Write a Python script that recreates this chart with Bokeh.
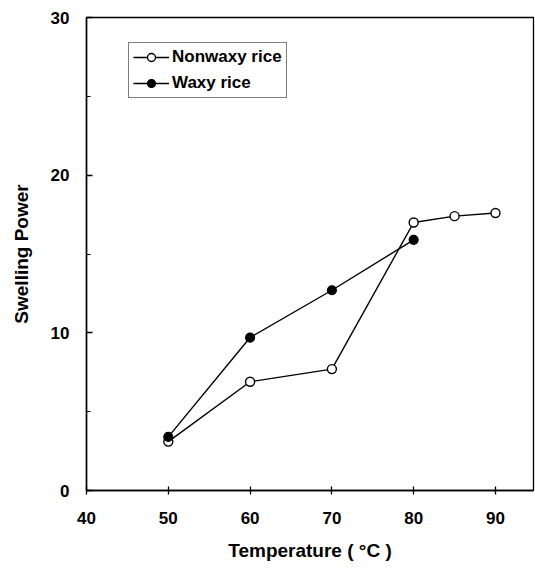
from bokeh.plotting import figure
from bokeh.models import FixedTicker, Range1d, Legend, LegendItem
from bokeh.embed import file_html
from bokeh.resources import INLINE

# Data
temp_nonwaxy = [50, 60, 70, 80, 85, 90]
swell_nonwaxy = [3.1, 6.9, 7.7, 17.0, 17.4, 17.6]
temp_waxy = [50, 60, 70, 80]
swell_waxy = [3.4, 9.7, 12.7, 15.9]
x_ticks = [40, 50, 60, 70, 80, 90]
y_ticks = [0, 10, 20, 30]
y_minor_ticks = [5, 15, 25]

FONT = "Liberation Sans"

p = figure(width=535, height=570, output_backend="svg", toolbar_location=None,
           x_range=Range1d(40, 94.65), y_range=Range1d(0, 30),
           min_border_left=86, min_border_right=2, min_border_top=17, min_border_bottom=80)
p.background_fill_color = "white"
p.border_fill_color = "white"
p.outline_line_color = "black"
p.outline_line_width = 1.3
p.xgrid.visible = False
p.ygrid.visible = False

# axes
xa = p.xaxis[0]
xa.ticker = FixedTicker(ticks=x_ticks)
xa.axis_label = "Temperature ( °C )"
xa.axis_line_width = 1.5
xa.major_tick_in = 4
xa.major_tick_out = 4
xa.major_tick_line_width = 1.3
xa.minor_tick_line_color = None
xa.major_label_standoff = 17
xa.major_label_text_font = FONT
xa.major_label_text_font_style = "bold"
xa.major_label_text_font_size = "17px"
xa.major_label_text_color = "black"
xa.axis_label_standoff = 13
xa.axis_label_text_font = FONT
xa.axis_label_text_font_style = "bold"
xa.axis_label_text_font_size = "19px"
xa.axis_label_text_color = "black"

ya = p.yaxis[0]
ya.ticker = FixedTicker(ticks=y_ticks, minor_ticks=y_minor_ticks)
ya.axis_label = "Swelling Power"
ya.axis_line_width = 1.5
ya.major_tick_in = 6
ya.major_tick_out = 0
ya.major_tick_line_width = 1.3
ya.minor_tick_in = 4
ya.minor_tick_out = 0
ya.minor_tick_line_width = 1.2
ya.major_label_standoff = 17
ya.major_label_text_font = FONT
ya.major_label_text_font_style = "bold"
ya.major_label_text_font_size = "17px"
ya.major_label_text_color = "black"
ya.axis_label_standoff = 16
ya.axis_label_text_font = FONT
ya.axis_label_text_font_style = "bold"
ya.axis_label_text_font_size = "19px"
ya.axis_label_text_color = "black"

# series
l1 = p.line(temp_nonwaxy, swell_nonwaxy, line_color="black", line_width=1.4)
c1 = p.scatter(temp_nonwaxy, swell_nonwaxy, marker="circle", size=9,
               fill_color="white", line_color="black", line_width=1.4)
l2 = p.line(temp_waxy, swell_waxy, line_color="black", line_width=1.4)
c2 = p.scatter(temp_waxy, swell_waxy, marker="circle", size=9,
               fill_color="black", line_color="black", line_width=1.2)

legend = Legend(items=[LegendItem(label="Nonwaxy rice", renderers=[l1, c1]),
                       LegendItem(label="Waxy rice", renderers=[l2, c2])],
                location=(42, 392))
legend.border_line_color = "black"
legend.border_line_width = 1.2
legend.background_fill_color = "white"
legend.background_fill_alpha = 1.0
legend.glyph_width = 36
legend.glyph_height = 20
legend.label_height = 20
legend.label_standoff = 3
legend.padding = 4
legend.spacing = 6
legend.margin = 0
legend.label_text_font = FONT
legend.label_text_font_style = "bold"
legend.label_text_font_size = "17px"
legend.label_text_color = "black"
p.add_layout(legend, "center")

open("out.html", "w").write(file_html(p, INLINE))
